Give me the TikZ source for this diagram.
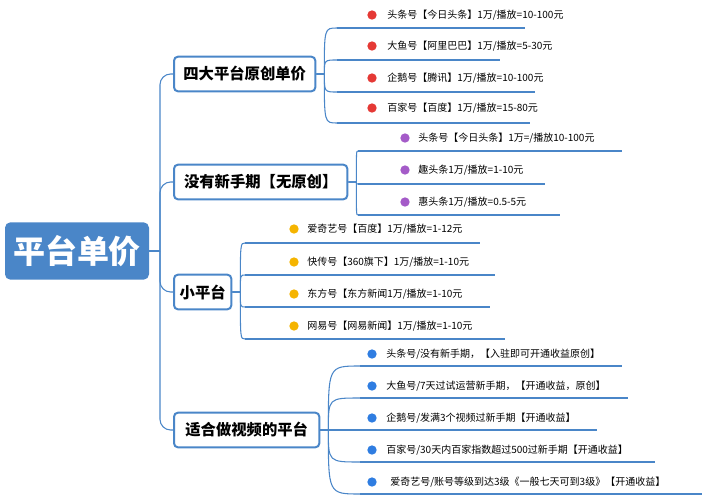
\documentclass[tikz,border=0pt]{standalone}
\usepackage{fontspec}
\setmainfont{Noto Sans CJK SC}
\begin{document}
\begin{tikzpicture}[x=0.75pt,y=-0.75pt,
  lc/.style={draw=linec,line width=0.8pt},
  ul/.style={draw=linec,line width=1.6pt},
  lvl/.style={draw=linec,line width=1.5pt,rounded corners=3pt,fill=white,font=\bfseries\fontsize{11.5}{13}\selectfont,inner sep=0pt,anchor=west,minimum height=26pt},
  leaf/.style={font=\fontsize{7.5}{9}\selectfont,anchor=west,inner sep=0pt},
  dotc/.style={circle,fill=#1,inner sep=0pt,minimum size=7pt}]
\definecolor{linec}{HTML}{4A86C8}
\definecolor{rootc}{HTML}{4A86C8}
\definecolor{cr}{HTML}{E53935}
\definecolor{cp}{HTML}{A45BC8}
\definecolor{co}{HTML}{F5B400}
\definecolor{cb}{HTML}{2F7DE1}
\useasboundingbox (0,0) rectangle (711,500);
\node[fill=rootc,rounded corners=4pt,text=white,font=\bfseries\fontsize{24}{28}\selectfont,minimum width=108pt,minimum height=43pt,inner sep=0pt] (root) at (77,251) {平台单价};
\node[lvl,minimum width=106pt] (b1) at (173,74) {四大平台原创单价};
\node[lvl,minimum width=130pt] (b2) at (173,182) {没有新手期【无原创】};
\node[lvl,minimum width=43pt] (b3) at (173,292) {小平台};
\node[lvl,minimum width=109pt] (b4) at (173,430) {适合做视频的平台};
\coordinate (tr) at (160,251);
\draw[lc] (root.east) -- (tr);
\foreach \b in {b1,b2,b3,b4}{\draw[lc,rounded corners=8pt] (tr) |- (\b.west);}
\foreach \bx/\sx/\uy/\ex/\dx/\tx/\ty/\c/\t/\n in {
 b1/337/28/525/372/387/15/cr/{头条号【今日头条】1万/播放=10-100元}/l1,
 b1/337/60/500/372/387/46/cr/{大鱼号【阿里巴巴】1万/播放=5-30元}/l2,
 b1/337/92/535/372/387/78/cr/{企鹅号【腾讯】1万/播放=10-100元}/l3,
 b1/337/123/530/372/387/108/cr/{百家号【百度】1万/播放=15-80元}/l4,
 b2/358/151/622/405/418/138/cp/{头条号【今日头条】1万=/播放10-100元}/l5,
 b2/358/184/545/405/418/170/cp/{趣头条1万/播放=1-10元}/l6,
 b2/358/215/560/405/418/202/cp/{惠头条1万/播放=0.5-5元}/l7,
 b3/245/243/480/294/307/229/co/{爱奇艺号【百度】1万/播放=1-12元}/l8,
 b3/245/275/495/294/307/262/co/{快传号【360旗下】1万/播放=1-10元}/l9,
 b3/245/307/490/294/307/294/co/{东方号【东方新闻1万/播放=1-10元}/l10,
 b3/245/339/505/294/307/326/co/{网易号【网易新闻】1万/播放=1-10元}/l11,
 b4/360/366/622/372/386/354/cb/{头条号/没有新手期，【入驻即可开通收益原创】}/l12,
 b4/360/398/628/372/386/386/cb/{大鱼号/7天过试运营新手期，【开通收益，原创】}/l13,
 b4/360/430/597/372/386/418/cb/{企鹅号/发满3个视频过新手期【开通收益】}/l14,
 b4/360/462/655/372/386/450/cb/{百家号/30天内百家指数超过500过新手期【开通收益】}/l15,
 b4/360/494/702/372/390/482/cb/{爱奇艺号/账号等级到达3级《一般七天可到3级》【开通收益】}/l16}{
  \coordinate (\n s) at (\sx,\uy);
  \coordinate (\n e) at (\ex,\uy);
  \draw[ul] (\n s) -- (\n e);
  \path (\bx.east) ++(8,0) coordinate (\n j);
  \draw[lc] (\bx.east) -- (\n j) .. controls (\n j |- \n s) .. (\n s);
  \node[dotc=\c] (\n d) at (\dx,\ty) {};
  \node[leaf] (\n) at (\tx,\ty) {\t};
}
\end{tikzpicture}
\end{document}
